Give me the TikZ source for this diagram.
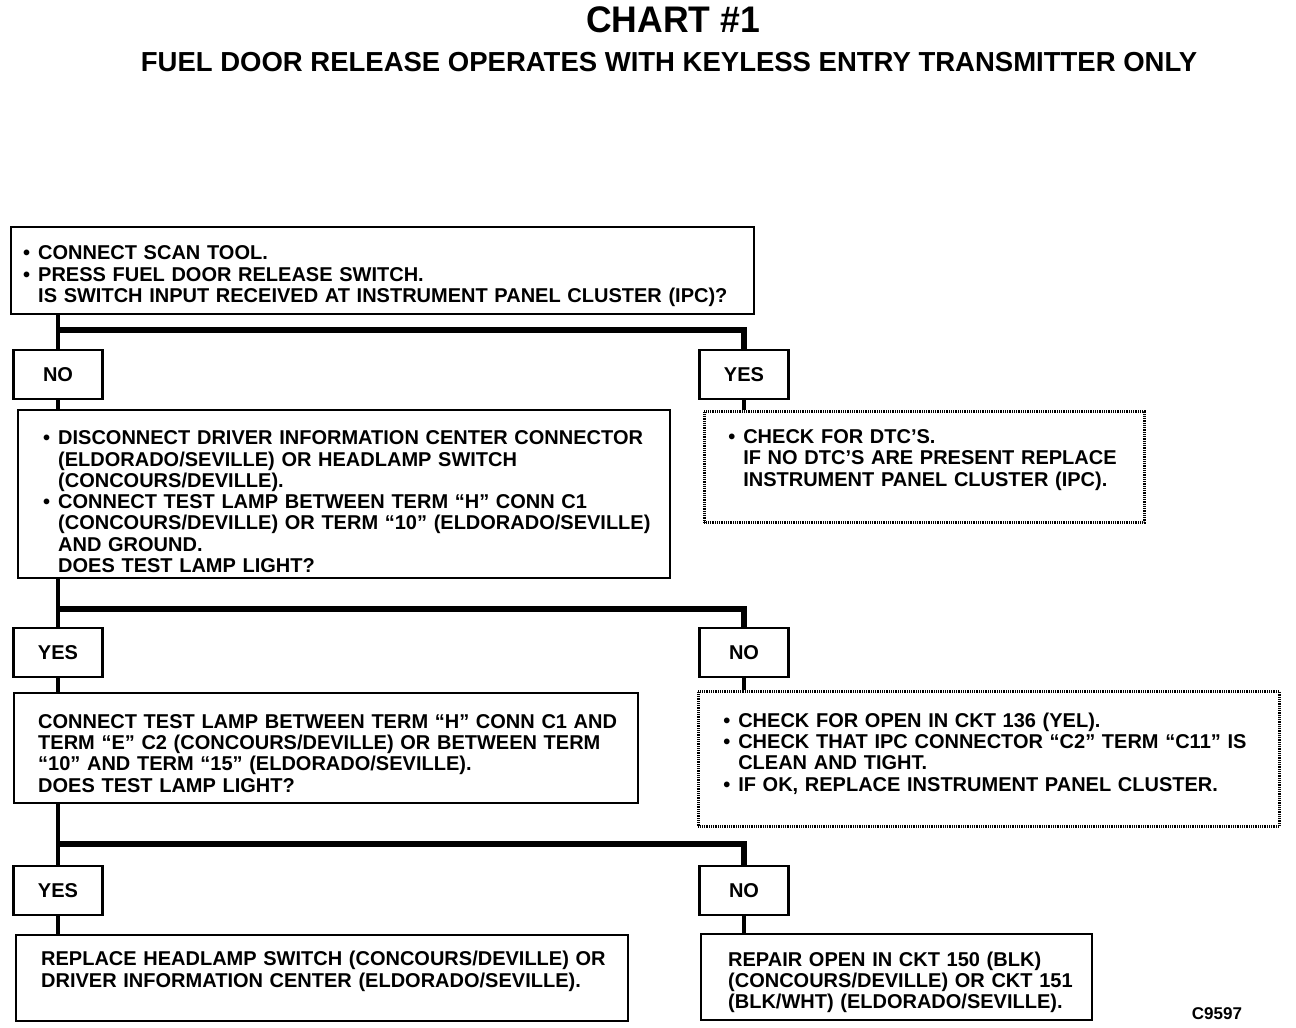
\documentclass[tikz,border=0pt]{standalone}
\usepackage{fontspec}
\setmainfont{Liberation Sans}
\newfontfamily\chartfont{Liberation Sans}[FakeStretch=0.96]
\usetikzlibrary{positioning, calc}

\newcommand{\boxfont}{\bfseries\fontsize{20}{21.3}\selectfont}
\newcommand{\bul}{\makebox[15pt][l]{\textbullet}}
\newcommand{\ind}{\hspace*{15pt}}
% invisible struts to nudge text inside a box
\newcommand{\uppad}[1]{\rule{0pt}{#1}}
\newcommand{\downpad}[1]{\rule[-#1]{0pt}{#1}}

\tikzset{
  stepbox/.style={draw, line width=2.4pt, anchor=north west, align=left,
    inner xsep=24pt, inner ysep=0pt, font=\boxfont},
  checkbox/.style={stepbox, dash pattern=on 1pt off 0.8pt, line width=2.6pt},
  answer/.style={draw, line width=2.4pt, minimum width=89pt, minimum height=49pt,
    anchor=north, inner sep=0pt, font=\boxfont},
  trunk/.style={line width=4pt},
  bar/.style={line width=5.5pt}
}

\begin{document}
\begin{tikzpicture}[x=1pt, y=-1pt]
  \useasboundingbox (0,0) rectangle (1296,1028);

  % title
  \node (title) at (673,20) {\chartfont\bfseries\fontsize{37}{40}\selectfont CHART \#1};
  \node (subtitle) at (669,62) {\bfseries\fontsize{27.5}{30}\selectfont FUEL DOOR RELEASE OPERATES WITH KEYLESS ENTRY TRANSMITTER ONLY};

  % first test
  \node[stepbox, inner xsep=12pt, text width=719pt, minimum height=87pt] (ask1) at (10,226)
    {\uppad{25pt}\bul CONNECT SCAN TOOL.\\
     \bul PRESS FUEL DOOR RELEASE SWITCH.\\
     \ind IS SWITCH INPUT RECEIVED AT INSTRUMENT PANEL CLUSTER (IPC)?};
  \node[answer] (no1)  at (58,349)  {NO};
  \node[answer] (yes1) at (744,349) {YES};

  \node[stepbox, inner xsep=25pt, text width=602pt, minimum height=168pt] (ask2) at (17,409)
    {\uppad{29pt}\bul DISCONNECT DRIVER INFORMATION CENTER CONNECTOR\\
     \ind (ELDORADO/SEVILLE) OR HEADLAMP SWITCH\\
     \ind (CONCOURS/DEVILLE).\\
     \bul CONNECT TEST LAMP BETWEEN TERM “H” CONN C1\\
     \ind \mbox{(CONCOURS/DEVILLE) OR TERM “10” (ELDORADO/SEVILLE)}\\
     \ind AND GROUND.\\
     \ind DOES TEST LAMP LIGHT?};
  \node[checkbox, text width=392pt, minimum height=111pt] (chk1) at (703,410)
    {\bul CHECK FOR DTC’S.\\
     \ind IF NO DTC’S ARE PRESENT REPLACE\\
     \ind INSTRUMENT PANEL CLUSTER (IPC).\downpad{18pt}};

  % second test
  \node[answer] (yes2) at (58,627)  {YES};
  \node[answer] (no2)  at (744,627) {NO};

  \node[stepbox, text width=576pt, minimum height=110pt] (ask3) at (13,692)
    {\uppad{24pt}\mbox{CONNECT TEST LAMP BETWEEN TERM “H” CONN C1 AND}\\
     TERM “E” C2 (CONCOURS/DEVILLE) OR BETWEEN TERM\\
     “10” AND TERM “15” (ELDORADO/SEVILLE).\\
     DOES TEST LAMP LIGHT?};
  \node[checkbox, inner xsep=25pt, text width=531pt, minimum height=135pt] (chk2) at (697,690)
    {\bul CHECK FOR OPEN IN CKT 136 (YEL).\\
     \bul CHECK THAT IPC CONNECTOR “C2” TERM “C11” IS\\
     \ind CLEAN AND TIGHT.\\
     \bul IF OK, REPLACE INSTRUMENT PANEL CLUSTER.\downpad{14pt}};

  % third test
  \node[answer] (yes3) at (58,865)  {YES};
  \node[answer] (no3)  at (744,865) {NO};

  \node[stepbox, inner xsep=25pt, text width=562pt, minimum height=86pt] (fix1) at (15,934)
    {\mbox{REPLACE HEADLAMP SWITCH (CONCOURS/DEVILLE) OR}\\
     DRIVER INFORMATION CENTER (ELDORADO/SEVILLE).\downpad{18pt}};
  \node[stepbox, inner xsep=27pt, text width=337pt, minimum height=86pt] (fix2) at (700,933)
    {\uppad{25pt}REPAIR OPEN IN CKT 150 (BLK)\\
     \mbox{(CONCOURS/DEVILLE) OR CKT 151}\\
     (BLK/WHT) (ELDORADO/SEVILLE).};

  \node[font=\bfseries\fontsize{17}{18}\selectfont] (code) at (1217,1014) {C9597};

  % connectors
  \coordinate (split1) at (58,330);
  \coordinate (split2) at (58,609);
  \coordinate (split3) at (58,844);

  \draw[trunk] (ask1.south -| no1) -- (no1.north);
  \draw[bar] (split1) -| (yes1.north);
  \draw[trunk] (no1.south) -- (ask2.north -| no1);
  \draw[trunk] (yes1.south) -- (chk1.north -| yes1);

  \draw[trunk] (ask2.south -| yes2) -- (yes2.north);
  \draw[bar] (split2) -| (no2.north);
  \draw[trunk] (yes2.south) -- (ask3.north -| yes2);
  \draw[trunk] (no2.south) -- (chk2.north -| no2);

  \draw[trunk] (ask3.south -| yes3) -- (yes3.north);
  \draw[bar] (split3) -| (no3.north);
  \draw[trunk] (yes3.south) -- (fix1.north -| yes3);
  \draw[trunk] (no3.south) -- (fix2.north -| no3);
\end{tikzpicture}
\end{document}
